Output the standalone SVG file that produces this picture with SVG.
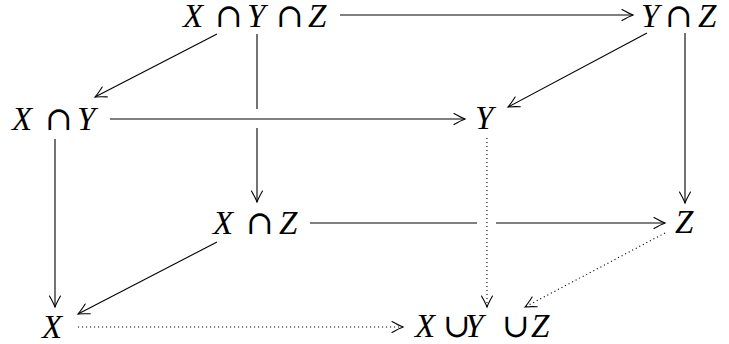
<svg xmlns="http://www.w3.org/2000/svg" width="729" height="344" viewBox="0 0 729 344">
<defs>
<marker id="ah" markerUnits="userSpaceOnUse" orient="auto" markerWidth="16" markerHeight="16" viewBox="-13 -8 16 16" refX="0" refY="0" overflow="visible">
<path d="M -11,-5.5 Q -4,-1.5 0,0 Q -4,1.5 -11,5.5" fill="none" stroke="#000" stroke-width="1.1" stroke-linecap="round"/>
</marker>
<style>
.t{font-family:"Liberation Serif","DejaVu Serif",serif;font-style:italic;font-size:33px;fill:#000}
.o{font-family:"DejaVu Serif",serif;font-style:normal;font-size:33px}
.e{fill:none;stroke:#000;stroke-width:1.1}
.d{stroke-dasharray:1.1 2.9}
.a{marker-end:url(#ah)}
</style>
</defs>
<rect width="729" height="344" fill="#fff"/>
<g id="connectors">
<path class="e a" d="M340,15 L633,15"/>
<path class="e a" d="M217,34 L95,97"/>
<path class="e" d="M257,34 L257,109"/>
<path class="e a" d="M257,128 L257,202"/>
<path class="e a" d="M647,33 L508,107"/>
<path class="e a" d="M685,33 L685,203"/>
<path class="e a" d="M110,119 L465,119"/>
<path class="e a" d="M55,139 L55,307"/>
<path class="e d a" d="M487,138 L487,307"/>
<path class="e" d="M310,223 L477,223"/>
<path class="e a" d="M496,223 L665,223"/>
<path class="e a" d="M217,242 L78,314"/>
<path class="e d a" d="M665,233 L525,307"/>
<path class="e d a" d="M78,327 L403,327"/>
</g>
<g id="n-xyz"><text class="t" y="27"><tspan x="183">X</tspan><tspan class="o" x="215">∩</tspan><tspan x="247">Y</tspan><tspan class="o" x="276">∩</tspan><tspan x="308">Z</tspan></text></g>
<g id="n-yz"><text class="t" y="27"><tspan x="641">Y</tspan><tspan class="o" x="665">∩</tspan><tspan x="698">Z</tspan></text></g>
<g id="n-xy"><text class="t" y="130"><tspan x="12">X</tspan><tspan class="o" x="45">∩</tspan><tspan x="77">Y</tspan></text></g>
<g id="n-y"><text class="t" y="129"><tspan x="475">Y</tspan></text></g>
<g id="n-xz"><text class="t" y="234"><tspan x="213">X</tspan><tspan class="o" x="246">∩</tspan><tspan x="279">Z</tspan></text></g>
<g id="n-z"><text class="t" y="233"><tspan x="675">Z</tspan></text></g>
<g id="n-x"><text class="t" y="338"><tspan x="42">X</tspan></text></g>
<g id="n-xuyuz"><text class="t" y="337"><tspan x="415">X</tspan><tspan class="o" x="443">∪</tspan><tspan x="465">Y</tspan><tspan class="o" x="502">∪</tspan><tspan x="531">Z</tspan></text></g>
</svg>
